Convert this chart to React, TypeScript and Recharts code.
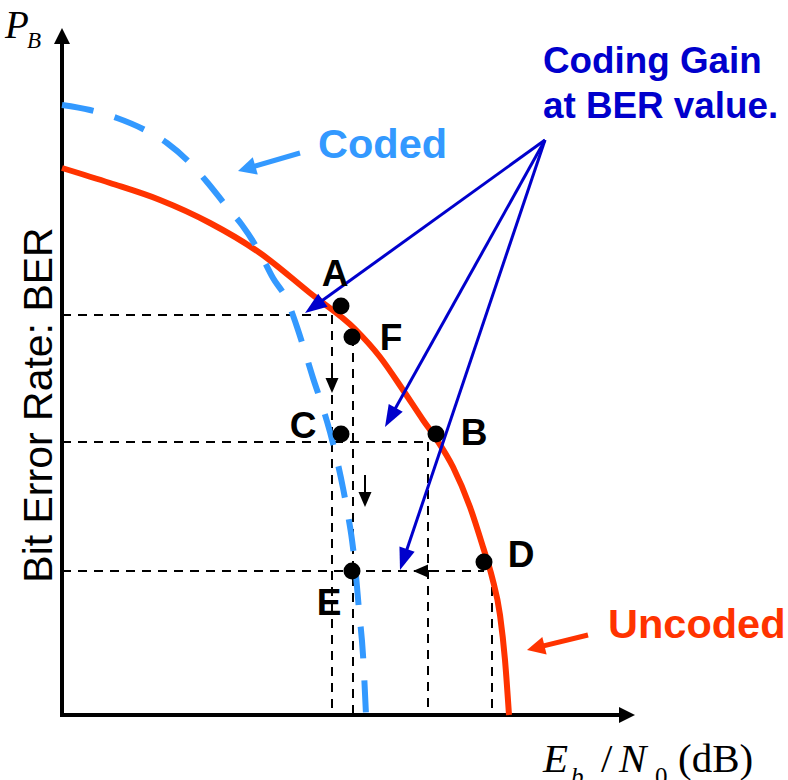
import React from 'react';
import { ComposedChart, Line, Scatter, XAxis, YAxis, ReferenceLine, ReferenceDot } from 'recharts';

// Conceptual BER curves (no ticks in the figure, arbitrary linear units).
// x = Eb/N0, y = bit error rate P_B
const uncodedEbN0 = [0, 48, 98, 148, 198, 248, 293, 318, 341, 361, 375, 391, 408, 421, 430, 438, 443, 447];
const uncodedBER = [547, 532, 515, 492, 462, 422, 386, 358, 325, 295, 275, 248, 208, 168, 138, 100, 55, 0];
const codedEbN0 = [0, 28, 55, 81, 105, 128, 145, 165, 180, 198, 211, 225, 235, 243, 251, 260, 268, 275, 281, 286, 290, 293, 297, 301, 304];
const codedBER = [610, 605, 597, 586, 572, 552, 533, 508, 490, 462, 437, 415, 388, 363, 337, 310, 283, 255, 227, 200, 175, 150, 105, 60, 0];

// labelled operating points
const pointNames = ['A', 'F', 'C', 'B', 'D', 'E'];
const pointEbN0 = [279, 290, 279, 374, 422, 290];
const pointBER = [409, 378, 281, 281, 153, 144];
const pointLabelEbN0 = [273, 329, 241, 412, 459, 267];
const pointLabelBER = [429, 365, 277, 270, 148, 100];

// dashed guide lines
const berLevels = [400, 273, 144];
const berLevelEnds = [271, 366, 422];
const dropEbN0 = [270, 291, 366, 430];
const dropTops = [400, 378, 273, 144];

// small black direction arrows
const guideFromX = [270, 303, 372];
const guideFromY = [352, 240, 144];
const guideToX = [270, 303, 351];
const guideToY = [322, 208, 144];

// coding-gain pointers
const gainOrigin = [483, 575];
const gainTipsX = [243, 323, 338];
const gainTipsY = [402, 288, 145];

// callout arrows for the curve names
const codedArrow = [238, 562, 176, 544];
const uncodedArrow = [526, 80, 465, 65];

const xDomain: [number, number] = [-62, 726];
const yDomain: [number, number] = [-65, 715];
const axisEnd = [573, 687];

const SANS = "'Liberation Sans', Arial, Helvetica, sans-serif";
const SERIF = "'Liberation Serif', 'Times New Roman', serif";
const RED = '#FF3300';
const LIGHT = '#3399FF';
const DARK = '#0000CC';

const uncoded = uncodedEbN0.map((x, i) => ({ x, y: uncodedBER[i] }));
const coded = codedEbN0.map((x, i) => ({ x, y: codedBER[i] }));
const points = pointNames.map((name, i) => ({ name, x: pointEbN0[i], y: pointBER[i] }));

const arrowShape = (color: string, width: number, headLen: number, headHalf: number, dash?: string) => (p: any) => {
  const x1 = Number(p.x1), y1 = Number(p.y1), x2 = Number(p.x2), y2 = Number(p.y2);
  const dx = x2 - x1, dy = y2 - y1;
  const L = Math.hypot(dx, dy) || 1;
  const ux = dx / L, uy = dy / L;
  const bx = x2 - ux * headLen, by = y2 - uy * headLen;
  const nx = -uy, ny = ux;
  return (
    <g>
      <line x1={x1} y1={y1} x2={bx + ux * 2} y2={by + uy * 2} stroke={color} strokeWidth={width} strokeDasharray={dash} />
      <polygon
        points={`${x2},${y2} ${bx + nx * headHalf},${by + ny * headHalf} ${bx - nx * headHalf},${by - ny * headHalf}`}
        fill={color}
      />
    </g>
  );
};

const seg = (key: string, a: number[], shape: any) => (
  <ReferenceLine
    key={key}
    segment={[{ x: a[0], y: a[1] }, { x: a[2], y: a[3] }]}
    shape={shape}
    ifOverflow="visible"
  />
);

const dashedLine = (key: string, a: number[]) => (
  <ReferenceLine
    key={key}
    segment={[{ x: a[0], y: a[1] }, { x: a[2], y: a[3] }]}
    stroke="#000"
    strokeWidth={2}
    strokeDasharray="9 7"
    ifOverflow="visible"
  />
);

const note = (key: string, x: number, y: number, render: (cx: number, cy: number) => React.ReactElement) => (
  <ReferenceDot key={key} x={x} y={y} r={0} ifOverflow="visible" shape={(p: any) => render(Number(p.cx), Number(p.cy))} />
);

const dotShape = (p: any) => <circle cx={p.cx} cy={p.cy} r={8.5} fill="#000" />;

export default function App() {
  return (
    <div style={{ position: 'absolute', left: 0, top: 0, width: 788, height: 780, background: '#fff' }}>
      <ComposedChart width={788} height={780} margin={{ top: 0, right: 0, bottom: 0, left: 0 }}>
        <XAxis type="number" dataKey="x" domain={xDomain} allowDataOverflow hide />
        <YAxis type="number" dataKey="y" domain={yDomain} allowDataOverflow hide />

        {berLevels.map((lv, i) => dashedLine(`h${i}`, [0, lv, berLevelEnds[i], lv]))}
        {dropEbN0.map((x, i) => dashedLine(`v${i}`, [x, dropTops[i], x, 0]))}
        {guideFromX.map((_, i) =>
          seg(`g${i}`, [guideFromX[i], guideFromY[i], guideToX[i], guideToY[i]], arrowShape('#000', 2, 15, 6.5))
        )}

        {seg('xaxis', [-2, 0, axisEnd[0], 0], arrowShape('#000', 4, 16, 8))}
        {seg('yaxis', [0, -2, 0, axisEnd[1]], arrowShape('#000', 4, 16, 8))}

        <Line data={uncoded} dataKey="y" type="monotone" stroke={RED} strokeWidth={6} dot={false} activeDot={false} isAnimationActive={false} />
        <Line data={coded} dataKey="y" type="monotone" stroke={LIGHT} strokeWidth={6} strokeDasharray="32 22" dot={false} activeDot={false} isAnimationActive={false} />

        {gainTipsX.map((tx, i) =>
          seg(`b${i}`, [gainOrigin[0], gainOrigin[1], tx, gainTipsY[i]], arrowShape(DARK, 3, 22, 8))
        )}
        {seg('codedArrow', codedArrow, arrowShape(LIGHT, 5, 18, 9))}
        {seg('uncodedArrow', uncodedArrow, arrowShape(RED, 5, 18, 9))}

        <Scatter data={points} dataKey="y" fill="#000" shape={dotShape} isAnimationActive={false} />

        {pointNames.map((n, i) =>
          note(`l${i}`, pointLabelEbN0[i], pointLabelBER[i], (cx, cy) => (
            <text x={cx} y={cy} textAnchor="middle" fontFamily={SANS} fontWeight="bold" fontSize={37} fill="#000">
              {n}
            </text>
          ))
        )}

        {note('coded', 256, 557, (cx, cy) => (
          <text x={cx} y={cy} fontFamily={SANS} fontWeight="bold" fontSize={41.5} fill={LIGHT}>Coded</text>
        ))}
        {note('uncodedTxt', 546, 77, (cx, cy) => (
          <text x={cx} y={cy} fontFamily={SANS} fontWeight="bold" fontSize={41.5} fill={RED}>Uncoded</text>
        ))}
        {note('gain', 481, 642, (cx, cy) => (
          <text x={cx} y={cy} fontFamily={SANS} fontWeight="bold" fontSize={36.8} fill={DARK}>
            <tspan x={cx} y={cy}>Coding Gain</tspan>
            <tspan x={cx} y={cy + 45}>at BER value.</tspan>
          </text>
        ))}
        {note('ylabel', -10, 310, (cx, cy) => (
          <text x={cx} y={cy} transform={`rotate(-90 ${cx} ${cy})`} textAnchor="middle" fontFamily={SANS} fontSize={41} fill="#000">
            Bit Error Rate: BER
          </text>
        ))}
        {note('pb', -57, 677, (cx, cy) => (
          <text fontFamily={SERIF} fontStyle="italic" fill="#000">
            <tspan x={cx} y={cy} fontSize={39}>P</tspan>
            <tspan x={cx + 22} y={cy + 10} fontSize={23}>B</tspan>
          </text>
        ))}
        {note('xlabel', 481, -57, (cx, cy) => (
          <text fontFamily={SERIF} fill="#000">
            <tspan x={cx} y={cy} fontSize={41} fontStyle="italic">E</tspan>
            <tspan x={cx + 28} y={cy + 13} fontSize={25} fontStyle="italic">b</tspan>
            <tspan x={cx + 58} y={cy} fontSize={41}>/</tspan>
            <tspan x={cx + 76} y={cy} fontSize={41} fontStyle="italic">N</tspan>
            <tspan x={cx + 112} y={cy + 13} fontSize={25}>0</tspan>
            <tspan x={cx + 135} y={cy} fontSize={41}>(dB)</tspan>
          </text>
        ))}
      </ComposedChart>
    </div>
  );
}
